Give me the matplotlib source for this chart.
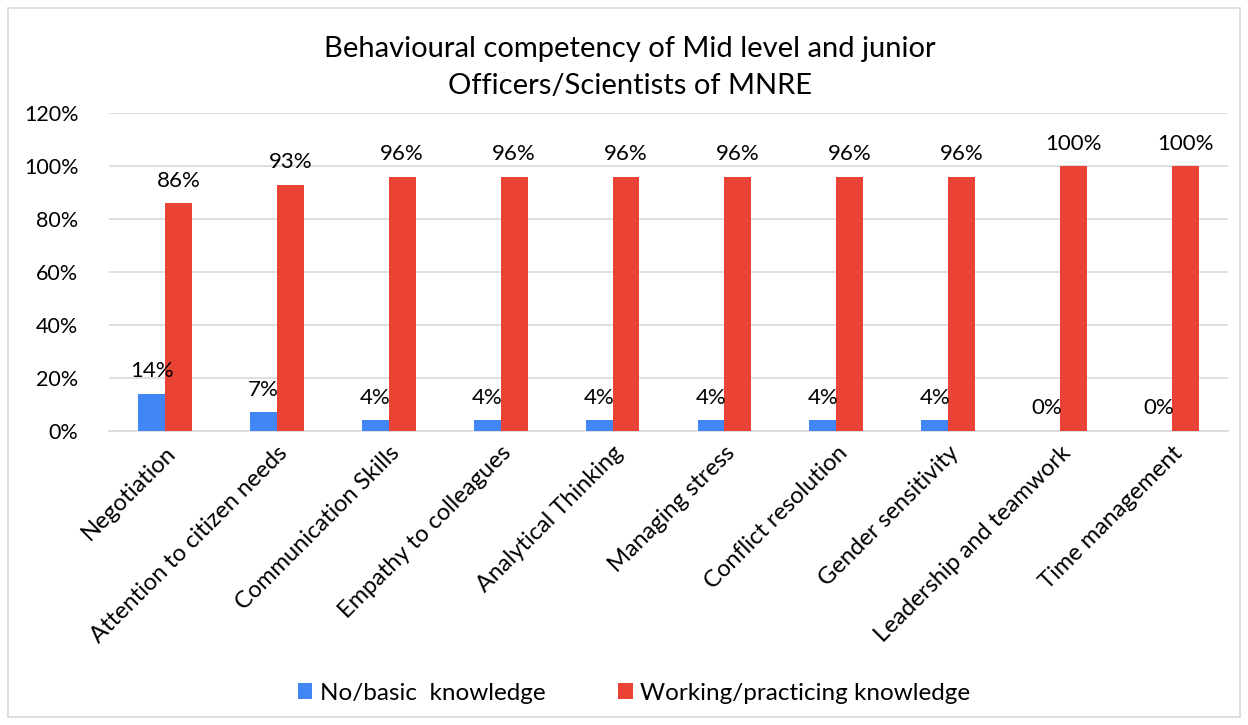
import matplotlib.pyplot as plt
import numpy as np
from matplotlib.patches import Rectangle

plt.rcParams['font.family'] = ['Lato', 'DejaVu Sans']

categories = ["Negotiation", "Attention to citizen needs", "Communication Skills",
              "Empathy to colleagues", "Analytical Thinking", "Managing stress",
              "Conflict resolution", "Gender sensitivity", "Leadership and teamwork",
              "Time management"]
no_basic = [14, 7, 4, 4, 4, 4, 4, 4, 0, 0]
working = [86, 93, 96, 96, 96, 96, 96, 96, 100, 100]
yticks = [0, 20, 40, 60, 80, 100, 120]

blue = '#4285F4'
red = '#EA4335'

fig = plt.figure(figsize=(12.48, 7.25), dpi=100)
ax = fig.add_axes([109/1248, 294/725, 1119/1248, 318/725])

x = np.arange(len(categories))
w = 0.24
b1 = ax.bar(x - w/2, np.array(no_basic)/100, w, color=blue, label='No/basic  knowledge', zorder=3)
b2 = ax.bar(x + w/2, np.array(working)/100, w, color=red, label='Working/practicing knowledge', zorder=3)

for bars, vals in ((b1, no_basic), (b2, working)):
    for rect, v in zip(bars, vals):
        ax.annotate(f'{v}%', (rect.get_x() + rect.get_width()/2, rect.get_height()),
                    xytext=(0, 9), textcoords='offset points', ha='center', va='bottom',
                    fontsize=16, color='black')

ax.set_xlim(-0.5, len(categories) - 0.5)
ax.set_ylim(0, 1.2)
ax.set_yticks([t/100 for t in yticks])
ax.set_yticklabels([f'{t}%' for t in yticks], fontsize=15.5)
ax.set_xticks(x)
ax.set_xticklabels(categories, rotation=45, ha='right', rotation_mode='anchor', fontsize=17)
ax.tick_params(axis='both', length=0)
ax.tick_params(axis='y', pad=22)
ax.tick_params(axis='x', pad=8)
ax.grid(axis='y', color='#d9d9d9', linewidth=1.2, zorder=0)
for s in ['top', 'right', 'left']:
    ax.spines[s].set_visible(False)
ax.spines['bottom'].set_color('#d9d9d9')
ax.spines['bottom'].set_linewidth(1.2)

fig.text(0.505, 0.932, 'Behavioural competency of Mid level and junior', ha='center', va='center', fontsize=21)
fig.text(0.505, 0.882, 'Officers/Scientists of MNRE', ha='center', va='center', fontsize=21)

fig.legend(handles=[b1, b2], loc='center', bbox_to_anchor=(0.508, 0.044), ncol=2,
           frameon=False, fontsize=17.5, handlelength=0.6, handleheight=0.6,
           handletextpad=0.3, columnspacing=3.0)

fig.patches.append(Rectangle((8/1248, 8/725), 1232/1248, 709/725, transform=fig.transFigure,
                             fill=False, edgecolor='#d9d9d9', linewidth=1.2))

fig.savefig('out.png', dpi=100)
